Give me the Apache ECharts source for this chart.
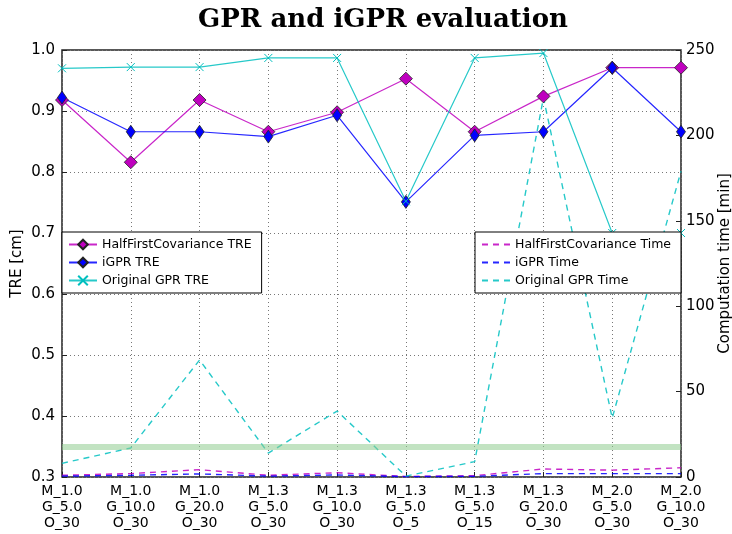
<!DOCTYPE html>
<html>
<head>
<meta charset="utf-8">
<script src="https://cdn.jsdelivr.net/npm/echarts@6/dist/echarts.min.js"></script>
<style>
  html, body { margin: 0; padding: 0; background: #fff; }
  #chart { width: 732px; height: 534px; }
</style>
</head>
<body>
<div id="chart"></div>
<script>
// categories (M = ..., G = ..., O = ...)
const categories = [
  'M_1.0\nG_5.0\nO_30', 'M_1.0\nG_10.0\nO_30', 'M_1.0\nG_20.0\nO_30',
  'M_1.3\nG_5.0\nO_30', 'M_1.3\nG_10.0\nO_30', 'M_1.3\nG_5.0\nO_5',
  'M_1.3\nG_5.0\nO_15', 'M_1.3\nG_20.0\nO_30', 'M_2.0\nG_5.0\nO_30',
  'M_2.0\nG_10.0\nO_30',
];

// TRE [cm], left axis
const halfFirstTre = [0.918, 0.816, 0.918, 0.866, 0.898, 0.953, 0.866, 0.924, 0.971, 0.971];
const igprTre = [0.922, 0.866, 0.866, 0.858, 0.893, 0.751, 0.860, 0.866, 0.971, 0.866];
const originalTre = [0.970, 0.972, 0.972, 0.987, 0.987, 0.752, 0.987, 0.995, 0.700, 0.700];

// computation time [min], right axis
const halfFirstTime = [1.0, 2.0, 4.3, 1.0, 2.5, 0.3, 0.8, 4.7, 4.0, 5.4];
const igprTime = [0.5, 1.0, 1.8, 0.5, 1.2, 0.2, 0.4, 2.0, 2.0, 2.0];
const originalTime = [8.0, 17.0, 68.5, 14.0, 38.6, 0.5, 9.0, 222.0, 34.5, 179.0];

// horizontal reference band (TRE)
const referenceTre = 0.348;

const chart = echarts.init(document.getElementById('chart'));

const MAGENTA = '#bf00bf';
const BLUE = '#0000ff';
const CYAN = '#00bfbf';
const FONT = 'DejaVu Sans';
const crossSymbol = 'path://M0,0L10,10M10,0L0,10';

function treSeries(name, data, color, symbol, size, extra) {
  return {
    name,
    type: 'line',
    yAxisIndex: 0,
    data,
    symbol,
    symbolSize: size,
    lineStyle: { color, width: 1.2, opacity: 0.85 },
    itemStyle: { color, borderColor: '#222', borderWidth: 0.8 },
    z: 5,
    ...extra,
  };
}

function timeSeries(name, data, color) {
  return {
    name,
    type: 'line',
    yAxisIndex: 1,
    data,
    symbol: 'none',
    lineStyle: { color, width: 1.4, type: [6, 5], opacity: 0.85 },
    itemStyle: { color },
    z: 3,
  };
}

const series = [
  treSeries('HalfFirstCovariance TRE', halfFirstTre, MAGENTA, 'diamond', [13, 13], {
    markLine: {
      silent: true,
      symbol: 'none',
      label: { show: false },
      lineStyle: { color: '#8fcc8f', width: 6, type: 'solid', opacity: 0.55 },
      data: [{ yAxis: referenceTre }],
    },
  }),
  treSeries('iGPR TRE', igprTre, BLUE, 'diamond', [9, 13]),
  treSeries('Original GPR TRE', originalTre, CYAN, crossSymbol, 8, {
    itemStyle: { color: CYAN, borderColor: CYAN, borderWidth: 1 },
  }),
  timeSeries('HalfFirstCovariance Time', halfFirstTime, MAGENTA),
  timeSeries('iGPR Time', igprTime, BLUE),
  timeSeries('Original GPR Time', originalTime, CYAN),
];

const legendBase = {
  orient: 'vertical',
  backgroundColor: '#fff',
  borderColor: '#000',
  borderWidth: 1,
  borderRadius: 0,
  padding: [6, 10, 6, 6],
  itemGap: 5,
  itemWidth: 28,
  itemHeight: 12,
  textStyle: { fontFamily: FONT, fontSize: 12.5, color: '#000' },
  z: 10,
};

// dashed time entries: keep the line in the legend, hide the fallback dot
const timeLegend = (name) => ({ name, itemStyle: { opacity: 0 } });

const axisName = { fontFamily: FONT, fontSize: 15, color: '#000' };

const option = {
  animation: false,
  backgroundColor: '#fff',
  title: {
    text: 'GPR and iGPR evaluation',
    left: 193,
    top: 2,
    textStyle: { fontFamily: 'DejaVu Serif', fontWeight: 'bold', fontSize: 26, color: '#000' },
  },
  legend: [
    {
      ...legendBase,
      left: 62,
      top: 232,
      data: ['HalfFirstCovariance TRE', 'iGPR TRE', 'Original GPR TRE'],
    },
    {
      ...legendBase,
      left: 475,
      top: 232,
      width: 205,
      data: ['HalfFirstCovariance Time', 'iGPR Time', 'Original GPR Time'].map(timeLegend),
    },
  ],
  grid: {
    left: 62,
    right: 51,
    top: 50,
    bottom: 57,
    outerBoundsMode: 'none',
    show: true,
    borderColor: '#222',
    borderWidth: 1.5,
  },
  xAxis: {
    type: 'category',
    data: categories,
    boundaryGap: false,
    axisLine: { show: false },
    axisTick: { show: true, inside: true, length: 5, lineStyle: { color: '#222' } },
    axisLabel: {
      fontFamily: FONT, fontSize: 14, color: '#000', lineHeight: 16, margin: 6, interval: 0,
    },
    splitLine: { show: true, lineStyle: { color: '#777', type: [1, 3], width: 1 } },
  },
  yAxis: [
    {
      type: 'value',
      min: 0.3,
      max: 1.0,
      interval: 0.1,
      name: 'TRE [cm]',
      nameLocation: 'middle',
      nameGap: 37,
      nameMoveOverlap: false,
      nameTextStyle: axisName,
      axisLine: { show: false },
      axisTick: { show: true, inside: true, length: 5, lineStyle: { color: '#222' } },
      axisLabel: {
        fontFamily: FONT, fontSize: 15, color: '#000', margin: 7,
        formatter: (v) => v.toFixed(1),
      },
      splitLine: { show: true, lineStyle: { color: '#777', type: [1, 3], width: 1 } },
    },
    {
      type: 'value',
      min: 0,
      max: 250,
      interval: 50,
      name: 'Computation time [min]',
      nameLocation: 'middle',
      nameGap: 37,
      nameMoveOverlap: false,
      nameTextStyle: axisName,
      axisLine: { show: false },
      axisTick: { show: true, inside: true, length: 5, lineStyle: { color: '#222' } },
      axisLabel: { fontFamily: FONT, fontSize: 15, color: '#000', margin: 5 },
      splitLine: { show: false },
    },
  ],
  series,
};

chart.setOption(option);
</script>
</body>
</html>
